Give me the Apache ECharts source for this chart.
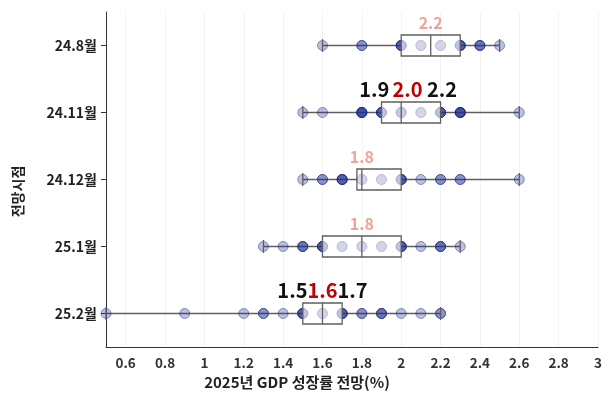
<!DOCTYPE html>
<html>
<head>
<meta charset="utf-8">
<script src="https://cdn.jsdelivr.net/npm/echarts@6/dist/echarts.min.js"></script>
<style>
  html, body { margin: 0; padding: 0; background: #fff; }
  #chart { width: 609px; height: 399px; }
</style>
</head>
<body>
<div id="chart"></div>
<script>
// ---- data ----
const periods = ['24.8월', '24.11월', '24.12월', '25.1월', '25.2월'];

// individual forecasts: value and number of institutions at that value
const fcValues = [
  [1.6, 1.8, 2.0, 2.1, 2.2, 2.3, 2.4, 2.5],
  [1.5, 1.6, 1.8, 1.9, 2.0, 2.1, 2.2, 2.3, 2.6],
  [1.5, 1.6, 1.7, 1.8, 1.9, 2.0, 2.1, 2.2, 2.3, 2.6],
  [1.3, 1.4, 1.5, 1.6, 1.7, 1.8, 1.9, 2.0, 2.1, 2.2, 2.3],
  [0.5, 0.9, 1.2, 1.3, 1.4, 1.5, 1.6, 1.7, 1.8, 1.9, 2.0, 2.1, 2.2]
];
const fcCounts = [
  [1, 2, 4, 2, 2, 4, 3, 1],
  [1, 1, 5, 4, 3, 2, 4, 5, 1],
  [1, 2, 4, 2, 2, 4, 1, 2, 2, 1],
  [1, 1, 3, 4, 2, 2, 2, 4, 1, 3, 1],
  [1, 1, 1, 2, 1, 4, 2, 4, 2, 3, 1, 1, 2]
];

// box statistics per period
const boxMin = [1.6, 1.5, 1.5, 1.3, 0.5];
const boxQ1  = [2.0, 1.9, 1.775, 1.6, 1.5];
const boxMed = [2.15, 2.0, 1.8, 1.8, 1.6];
const boxQ3  = [2.3, 2.2, 2.0, 2.0, 1.7];
const boxMax = [2.5, 2.6, 2.6, 2.3, 2.2];

// labels above boxes
const labelLow  = ['', '1.9', '', '', '1.5'];
const labelMid  = ['2.2', '2.0', '1.8', '1.8', '1.6'];
const labelHigh = ['', ' 2.2', '', '', '1.7'];

const xTicks = [0.6, 0.8, 1, 1.2, 1.4, 1.6, 1.8, 2, 2.2, 2.4, 2.6, 2.8, 3];

// ---- build series data ----
const scatterData = [];
fcValues.forEach((vals, r) => {
  vals.forEach((v, i) => {
    for (let k = 0; k < fcCounts[r][i]; k++) scatterData.push([v, r]);
  });
});
const boxData = periods.map((p, r) => [r, boxMin[r], boxQ1[r], boxMed[r], boxQ3[r], boxMax[r]]);

const FONT = '"Noto Sans CJK KR", "Noto Sans", sans-serif';
const BOX_H = 21, CAP_H = 13;
const lineColor = '#5f5f5f';

const chart = echarts.init(document.getElementById('chart'));
chart.setOption({
  animation: false,
  backgroundColor: '#fff',
  grid: { left: 106, right: 11, top: 12, bottom: 52 },
  xAxis: {
    type: 'value', min: 0.5, max: 3,
    name: '2025년 GDP 성장률 전망(%)',
    nameLocation: 'middle', nameGap: 27,
    nameTextStyle: { fontFamily: FONT, fontWeight: 'bold', fontSize: 15, color: '#222', padding: [0, 110, 0, 0] },
    axisLine: { show: true, lineStyle: { color: '#333', width: 1 } },
    axisTick: { show: false, customValues: xTicks },
    axisLabel: { customValues: xTicks, fontFamily: FONT, fontWeight: 'bold', fontSize: 13.5, color: '#333', margin: 9,
      formatter: v => String(v) },
    splitLine: { show: true, lineStyle: { color: '#f3f3f3', width: 1 } }
  },
  yAxis: {
    type: 'category', data: periods, inverse: true,
    name: '전망시점', nameLocation: 'middle', nameGap: 81, nameRotate: 90,
    nameTextStyle: { fontFamily: FONT, fontWeight: 'bold', fontSize: 14, color: '#222', padding: [0, 24, 0, 0] },
    axisLine: { show: true, lineStyle: { color: '#333', width: 1 } },
    axisTick: { show: true, alignWithLabel: true, length: 5, lineStyle: { color: '#333' } },
    axisLabel: { fontFamily: FONT, fontWeight: 'bold', fontSize: 14, color: '#222', margin: 9 },
    splitLine: { show: false }
  },
  series: [
    {
      type: 'custom', z: 1, clip: false,
      data: boxData,
      encode: { x: [1, 2, 3, 4, 5], y: 0 },
      renderItem: function (params, api) {
        const r = api.value(0);
        const pMin = api.coord([api.value(1), r]);
        const pQ1 = api.coord([api.value(2), r]);
        const pQ3 = api.coord([api.value(4), r]);
        const pMax = api.coord([api.value(5), r]);
        const st = { stroke: lineColor, lineWidth: 1.3 };
        return { type: 'group', children: [
          { type: 'line', shape: { x1: pMin[0], y1: pMin[1], x2: pQ1[0], y2: pQ1[1] }, style: st },
          { type: 'line', shape: { x1: pQ3[0], y1: pQ3[1], x2: pMax[0], y2: pMax[1] }, style: st }
        ]};
      }
    },
    {
      type: 'scatter', z: 2,
      data: scatterData,
      symbol: 'circle', symbolSize: 10,
      itemStyle: { color: 'rgba(30,45,145,0.3)', borderColor: 'rgba(25,35,120,0.45)', borderWidth: 1, opacity: 1 },
      emphasis: { disabled: true }
    },
    {
      type: 'custom', z: 3, clip: false,
      data: boxData,
      encode: { x: [1, 2, 3, 4, 5], y: 0 },
      renderItem: function (params, api) {
        const r = api.value(0);
        const pMin = api.coord([api.value(1), r]);
        const pQ1 = api.coord([api.value(2), r]);
        const pMed = api.coord([api.value(3), r]);
        const pQ3 = api.coord([api.value(4), r]);
        const pMax = api.coord([api.value(5), r]);
        const y = pMed[1];
        const st = { stroke: lineColor, lineWidth: 1.3 };
        const children = [
          { type: 'rect', shape: { x: pQ1[0], y: y - BOX_H / 2, width: pQ3[0] - pQ1[0], height: BOX_H },
            style: { fill: 'rgba(255,255,255,0.62)', stroke: lineColor, lineWidth: 1.3 } },
          { type: 'line', shape: { x1: pMed[0], y1: y - BOX_H / 2, x2: pMed[0], y2: y + BOX_H / 2 }, style: st },
          { type: 'line', shape: { x1: pMin[0], y1: y - CAP_H / 2, x2: pMin[0], y2: y + CAP_H / 2 }, style: st },
          { type: 'line', shape: { x1: pMax[0], y1: y - CAP_H / 2, x2: pMax[0], y2: y + CAP_H / 2 }, style: st }
        ];
        const big = labelLow[r] !== '';
        const txt = big
          ? '{k|' + labelLow[r] + '}{s|}{r|' + labelMid[r] + '}{k|' + labelHigh[r] + '}'
          : '{p|' + labelMid[r] + '}';
        children.push({
          type: 'text', z2: 10,
          style: {
            text: txt, x: pMed[0] + (r === 1 ? 7 : 0), y: y - 23,
            align: 'center', verticalAlign: 'middle',
            rich: {
              k: { fontFamily: FONT, fontWeight: 'bold', fontSize: 20, fill: '#111' },
              s: { width: r === 1 ? 3 : 0, fontSize: 20 },
              r: { fontFamily: FONT, fontWeight: 'bold', fontSize: 20, fill: '#c00000' },
              p: { fontFamily: FONT, fontWeight: 'bold', fontSize: 16, fill: '#f2a19b' }
            }
          }
        });
        return { type: 'group', children: children };
      }
    }
  ]
});
</script>
</body>
</html>
